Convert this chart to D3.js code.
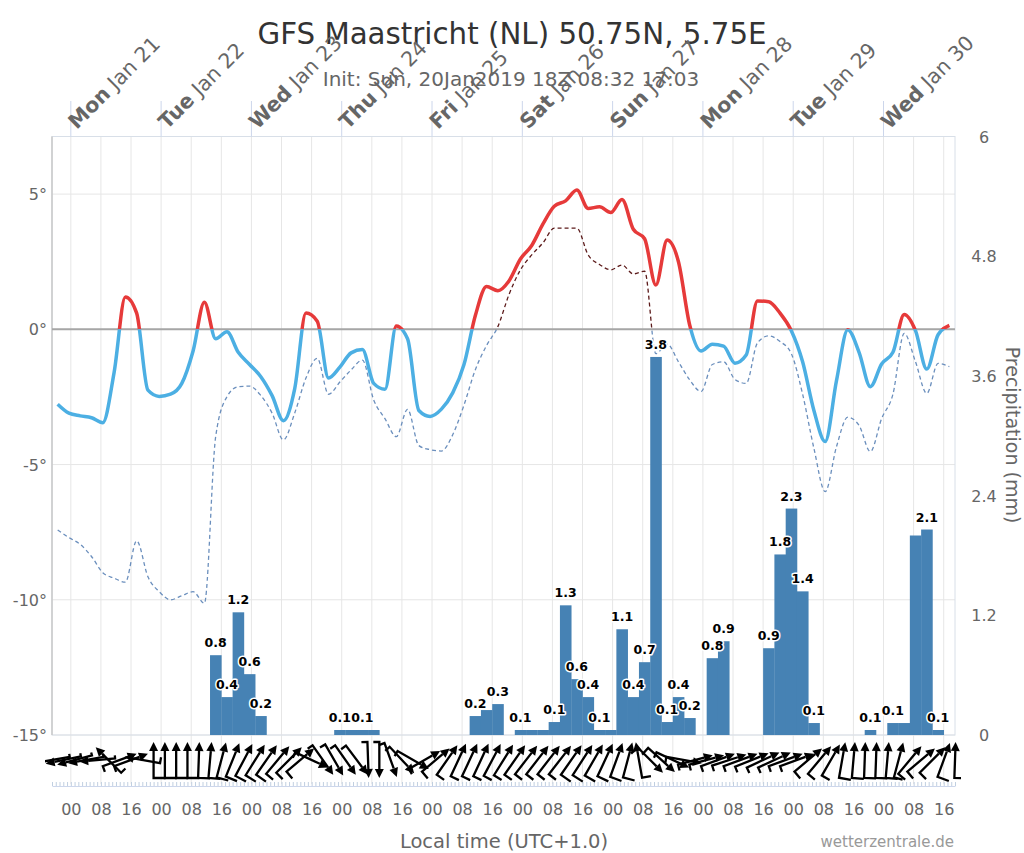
<!DOCTYPE html>
<html><head><meta charset="utf-8">
<script src="https://cdn.jsdelivr.net/npm/d3@7"></script>
<style>
body{margin:0;background:#fff}
svg{display:block;font-family:"DejaVu Sans",Verdana,sans-serif}
</style>
</head><body>
<svg id="chart" width="1024" height="853"></svg>
<script>
// ---------------- DATA ----------------
const titleText = "GFS Maastricht (NL) 50.75N, 5.75E";
const subtitleText = "Init: Sun, 20Jan2019 18Z 08:32 17:03";
const xAxisTitle = "Local time (UTC+1.0)";
const creditText = "wetterzentrale.de";
const precipAxisTitle = "Precipitation (mm)";
// local time (UTC+1), stored as UTC fields
const startTime = Date.UTC(2019, 0, 20, 19);
const endTime = Date.UTC(2019, 0, 30, 19);
const stepHours = 3;

// 2 m temperature (°C), 3-hourly
const temperature = [-2.77,-3.10,-3.2,-3.27,-3.45,-1.6,1.2,0.6,-2.25,-2.48,
 -2.4,-2.0,-0.8,1.0,-0.35,-0.09,-0.85,-1.3,-1.75,-2.45,
 -3.38,-2.2,0.6,0.3,-1.8,-1.4,-0.87,-0.75,-2.0,-2.22,
 0.12,-0.35,-3.0,-3.22,-2.95,-2.35,-1.3,0.5,1.58,1.43,
 1.8,2.6,3.1,3.9,4.55,4.75,5.15,4.47,4.53,4.32,
 4.8,3.7,3.35,1.64,3.3,2.5,0.15,-0.8,-0.55,-0.62,
 -1.25,-0.95,1.05,1.02,0.6,-0.05,-1.2,-3.0,-4.15,-1.9,
 -0.02,-0.85,-2.12,-1.28,-0.85,0.55,-0.05,-1.47,-0.2,0.15];

// dew point (°C), 3-hourly
const dewpoint = [-7.42,-7.7,-7.95,-8.4,-9.0,-9.2,-9.35,-7.82,-9.15,-9.7,
 -10.0,-9.85,-9.7,-10.13,-3.97,-2.49,-2.12,-2.1,-2.45,-3.1,
 -4.09,-3.1,-1.8,-1.07,-2.4,-1.95,-1.5,-1.14,-2.61,-3.3,
 -3.97,-2.96,-4.3,-4.45,-4.5,-3.9,-2.8,-1.5,-0.6,0.1,
 1.3,2.2,2.75,3.2,3.74,3.74,3.74,2.75,2.4,2.2,
 2.38,2.05,2.15,-0.9,-0.55,-1.2,-1.87,-2.3,-1.3,-1.2,
 -1.85,-2.0,-0.5,-0.24,-0.45,-0.9,-2.4,-4.4,-6.0,-4.34,
 -3.25,-3.55,-4.52,-3.3,-2.4,-0.15,-1.2,-2.37,-1.26,-1.38];

// 3-hour precipitation (mm)
const precipitation = [0,0,0,0,0,0,0,0,0,0,
 0,0,0,0,0.8,0.38,1.23,0.61,0.19,0,
 0,0,0,0,0,0.05,0.05,0.05,0.05,0,
 0,0,0,0,0,0,0,0.19,0.25,0.31,
 0,0.05,0.05,0.05,0.13,1.3,0.56,0.38,0.05,0.05,
 1.06,0.38,0.73,3.79,0.13,0.38,0.17,0,0.77,0.94,
 0,0,0,0.87,1.81,2.27,1.44,0.12,0,0,
 0,0,0.05,0,0.12,0.12,2.0,2.06,0.05,0];

// wind arrow direction (screen degrees, 0 = towards east, 90 = towards north)
const windDirection = [190,192,195,190,185,135,20,20,170,90,
 90,90,90,88,85,75,68,62,58,55,
 50,45,40,335,305,300,305,307,272,270,
 290,313,330,30,40,55,65,65,65,62,
 58,55,52,52,52,52,55,57,60,65,
 70,75,100,315,318,335,350,15,15,20,
 18,20,22,25,25,20,20,40,50,60,
 80,85,88,88,85,75,50,40,45,70,88];

// wind strength class (drawn as feather length at the tail)
const windStrength = [1,1,1,1,1,2,2,2,2,4,
 4,4,4,4,4,4,4,4,4,4,
 3,3,3,2,2,2,2,2,2,2,
 2,2,2,2,3,3,3,3,3,3,
 3,3,3,3,3,3,4,4,4,4,
 4,4,3,3,3,2,2,2,2,2,
 2,2,2,2,2,2,2,3,3,3,
 4,4,4,4,4,3,3,3,3,4,4];

const tempTicks = [-15, -10, -5, 0, 5];
const precipTicks = [0, 1.2, 2.4, 3.6, 4.8, 6];

// ---------------- LAYOUT ----------------
const svg = d3.select("#chart");
const L = 52, R = 955, T = 136.5, B = 735;
const HOUR = 3600e3;
const x = d3.scaleUtc().domain([new Date(startTime), new Date(endTime)]).range([L, R]);
const yT = d3.scaleLinear().domain([-15, 7.13]).range([B, T]);
const yP = d3.scaleLinear().domain([0, 6]).range([B, T]);
const gray = "#666";

const seriesTime = i => new Date(startTime + (stepHours * i + stepHours / 2) * HOUR);
const barStart = i => new Date(startTime + stepHours * i * HOUR);
const barEnd = i => new Date(startTime + stepHours * (i + 1) * HOUR);
const windTime = i => new Date(startTime + stepHours * i * HOUR);

const defs = svg.append("defs");
defs.append("clipPath").attr("id", "plotClip").append("rect")
  .attr("x", L).attr("y", T).attr("width", R - L).attr("height", B - T);
defs.append("clipPath").attr("id", "aboveZero").append("rect")
  .attr("x", L).attr("y", T - 10).attr("width", R - L + 5).attr("height", yT(0) - T + 10);
defs.append("clipPath").attr("id", "belowZero").append("rect")
  .attr("x", L).attr("y", yT(0)).attr("width", R - L + 5).attr("height", B - yT(0) + 10);
defs.append("clipPath").attr("id", "windClip").append("rect")
  .attr("x", 45).attr("y", 736).attr("width", R - 45 + 6).attr("height", 50);

// ---------------- TITLES ----------------
svg.append("text").attr("x", 512).attr("y", 44).attr("text-anchor", "middle")
  .attr("font-size", 29.3).attr("fill", "#333").text(titleText);
svg.append("text").attr("x", 511).attr("y", 86).attr("text-anchor", "middle")
  .attr("font-size", 20).attr("fill", gray).text(subtitleText);

// ---------------- GRID ----------------
const eightHourTicks = x.ticks(d3.utcHour.every(8));
const dayTicks = d3.utcDay.range(new Date(startTime), new Date(endTime));

svg.append("g").selectAll("line").data(eightHourTicks).join("line")
  .attr("x1", d => x(d)).attr("x2", d => x(d))
  .attr("y1", T).attr("y2", 784)
  .attr("stroke", "#e6e6e6").attr("stroke-width", 1);

svg.append("g").selectAll("line").data(tempTicks).join("line")
  .attr("x1", L).attr("x2", R)
  .attr("y1", d => yT(d)).attr("y2", d => yT(d))
  .attr("stroke", "#e6e6e6").attr("stroke-width", 1);

// plot border
svg.append("rect").attr("x", L).attr("y", T).attr("width", R - L).attr("height", B - T)
  .attr("fill", "none").attr("stroke", "#d8dfe8").attr("stroke-width", 1);
svg.append("line").attr("x1", L).attr("x2", L).attr("y1", T).attr("y2", B)
  .attr("stroke", "#c8c8c8").attr("stroke-width", 1.5);

// day tick lines above plot
svg.append("g").selectAll("line").data(dayTicks).join("line")
  .attr("x1", d => x(d)).attr("x2", d => x(d))
  .attr("y1", 101).attr("y2", T)
  .attr("stroke", "#ccd6eb").attr("stroke-width", 1);

// day labels
const fmtDay = d3.utcFormat("%a"), fmtDate = d3.utcFormat("%b %d");
const dayLab = svg.append("g").selectAll("text").data(dayTicks).join("text")
  .attr("transform", d => `translate(${x(d) + 6},130) rotate(-45)`)
  .attr("font-size", 20.5).attr("fill", gray);
dayLab.append("tspan").attr("font-weight", "bold").text(d => fmtDay(d));
dayLab.append("tspan").text(d => " " + fmtDate(d));

// zero line
svg.append("line").attr("x1", L).attr("x2", R).attr("y1", yT(0)).attr("y2", yT(0))
  .attr("stroke", "#a6a6a6").attr("stroke-width", 2);

// ---------------- AXES ----------------
const leftAxis = svg.append("g").attr("transform", `translate(${L},0)`)
  .call(d3.axisLeft(yT).tickValues(tempTicks).tickFormat(d => d + "°").tickSize(0).tickPadding(5));
leftAxis.select(".domain").remove();
leftAxis.selectAll("text").attr("font-size", 16).attr("fill", gray)
  .attr("font-family", "DejaVu Sans").attr("dy", "0.35em");

const rightAxis = svg.append("g").attr("transform", `translate(${R},0)`)
  .call(d3.axisRight(yP).tickValues(precipTicks).tickFormat(d => String(+d.toFixed(1))).tickSize(0).tickPadding(29));
rightAxis.select(".domain").remove();
rightAxis.selectAll("text").attr("font-size", 16).attr("fill", gray)
  .attr("font-family", "DejaVu Sans").attr("text-anchor", "middle").attr("dy", "0.35em");

svg.append("text").attr("transform", "translate(1006,435) rotate(90)")
  .attr("text-anchor", "middle").attr("font-size", 19).attr("fill", gray).text(precipAxisTitle);

// bottom axis: minor hourly ticks + 8-hour labels
const bottomMinor = svg.append("g").attr("transform", "translate(0,786)")
  .call(d3.axisBottom(x).ticks(d3.utcHour.every(1)).tickFormat("").tickSize(-4).tickSizeOuter(0));
bottomMinor.selectAll("line").attr("stroke", "#c0cfe0");
bottomMinor.select(".domain").attr("stroke", "#ccd6eb");

const bottomAxis = svg.append("g").attr("transform", "translate(0,786)")
  .call(d3.axisBottom(x).ticks(d3.utcHour.every(8)).tickFormat(d3.utcFormat("%H")).tickSize(0).tickPadding(18));
bottomAxis.select(".domain").remove();
bottomAxis.selectAll("text").attr("font-size", 16).attr("fill", gray).attr("font-family", "DejaVu Sans");

svg.append("text").attr("x", 504).attr("y", 848).attr("text-anchor", "middle")
  .attr("font-size", 19.5).attr("fill", gray).text(xAxisTitle);
svg.append("text").attr("x", 954).attr("y", 847).attr("text-anchor", "end")
  .attr("font-size", 15).attr("fill", "#999").text(creditText);

// ---------------- BARS ----------------
const bars = precipitation.map((v, i) => ({ v, i })).filter(d => d.v > 0);
svg.append("g").attr("clip-path", "url(#plotClip)").selectAll("rect").data(bars).join("rect")
  .attr("x", d => x(barStart(d.i)))
  .attr("width", d => x(barEnd(d.i)) - x(barStart(d.i)) + 0.3)
  .attr("y", d => yP(d.v))
  .attr("height", d => yP(0) - yP(d.v))
  .attr("fill", "steelblue");

// ---------------- LINES ----------------
const lineT = d3.line().x((d, i) => x(seriesTime(i))).y(d => yT(d)).curve(d3.curveMonotoneX);

const dewG = svg.append("g");
dewG.append("path").attr("d", lineT(dewpoint)).attr("clip-path", "url(#aboveZero)")
  .attr("fill", "none").attr("stroke", "#5c1a1a").attr("stroke-width", 1.3).attr("stroke-dasharray", "4,3");
dewG.append("path").attr("d", lineT(dewpoint)).attr("clip-path", "url(#belowZero)")
  .attr("fill", "none").attr("stroke", "#6b8fbd").attr("stroke-width", 1.3).attr("stroke-dasharray", "4,3");

const tG = svg.append("g");
tG.append("path").attr("d", lineT(temperature)).attr("clip-path", "url(#aboveZero)")
  .attr("fill", "none").attr("stroke", "#e63a3a").attr("stroke-width", 3.5).attr("stroke-linejoin", "round");
tG.append("path").attr("d", lineT(temperature)).attr("clip-path", "url(#belowZero)")
  .attr("fill", "none").attr("stroke", "#4cafe3").attr("stroke-width", 3.5).attr("stroke-linejoin", "round");

// ---------------- BAR LABELS (overlap hidden) ----------------
const fmtLab = v => (Math.round(v * 10) / 10).toFixed(1);
const labG = svg.append("g");
const labs = bars.map(d => {
  const cx = x(seriesTime(d.i));
  const by = yP(d.v) - 8;
  const t = labG.append("text").attr("x", cx).attr("y", by).attr("text-anchor", "middle")
    .attr("font-size", 12.5).attr("font-weight", "bold").attr("fill", "#000")
    .attr("stroke", "#fff").attr("stroke-width", 3).attr("stroke-linejoin", "round")
    .attr("paint-order", "stroke").text(fmtLab(d.v));
  const w = t.node().getComputedTextLength();
  return { d, t, box: [cx - w / 2, by - 10, cx + w / 2, by + 2] };
});
const order = labs.slice().sort((a, b) => b.d.v - a.d.v || a.d.i - b.d.i);
const shown = [];
order.forEach(l => {
  const hit = shown.some(s => !(l.box[2] <= s.box[0] || l.box[0] >= s.box[2] || l.box[3] <= s.box[1] || l.box[1] >= s.box[3]));
  if (hit) l.t.remove(); else shown.push(l);
});

// ---------------- WIND ARROWS ----------------
const windG = svg.append("g").attr("clip-path", "url(#windClip)");
const cy = 760, half = 18, headLen = 9, headW = 4.5;
windDirection.forEach((deg, i) => {
  const cx = x(windTime(i));
  const a = deg * Math.PI / 180;
  const dx = Math.cos(a), dy = -Math.sin(a);
  const px = Math.sin(a), py = Math.cos(a);
  const fl = 3 * windStrength[i];
  const hx = cx + half * dx, hy = cy + half * dy;
  const tx = cx - half * dx, ty = cy - half * dy;
  const bx = hx - headLen * dx, by = hy - headLen * dy;
  windG.append("path")
    .attr("d", `M${tx + fl * px},${ty + fl * py}L${tx},${ty}L${bx},${by}`)
    .attr("fill", "none").attr("stroke", "#000").attr("stroke-width", 2.3).attr("stroke-linejoin", "miter");
  windG.append("path")
    .attr("d", `M${hx},${hy}L${bx + headW * px},${by + headW * py}L${bx - headW * px},${by - headW * py}Z`)
    .attr("fill", "#000");
});
</script>
</body></html>
